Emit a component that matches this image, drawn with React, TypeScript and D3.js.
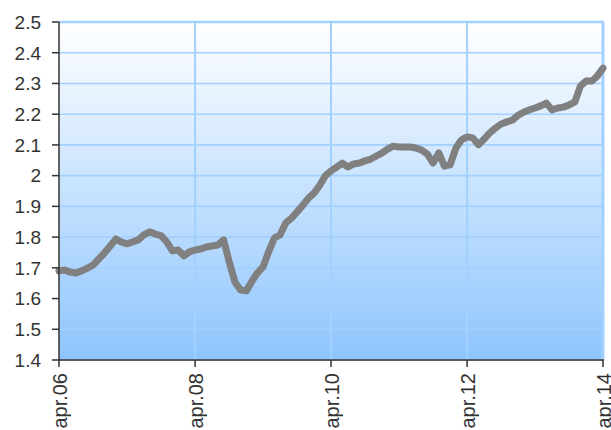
import React, { useEffect } from 'react';
import * as d3 from 'd3';

// monthly series, starting april 2006
const startMonth = '2006-04';
const values = [
  1.690, 1.693, 1.686, 1.683, 1.690, 1.699, 1.709, 1.729, 1.748, 1.771, 1.794, 1.784,
  1.778, 1.784, 1.791, 1.807, 1.817, 1.810, 1.805, 1.784, 1.755, 1.758, 1.739, 1.752,
  1.758, 1.761, 1.768, 1.771, 1.774, 1.791, 1.720, 1.654, 1.628, 1.625, 1.657, 1.683,
  1.703, 1.752, 1.797, 1.807, 1.846, 1.862, 1.882, 1.904, 1.927, 1.944, 1.970, 1.999,
  2.015, 2.028, 2.041, 2.028, 2.038, 2.041, 2.048, 2.054, 2.064, 2.074, 2.087, 2.096,
  2.093, 2.093, 2.093, 2.090, 2.083, 2.070, 2.041, 2.074, 2.031, 2.035, 2.090, 2.116,
  2.126, 2.123, 2.100, 2.119, 2.139, 2.155, 2.168, 2.175, 2.181, 2.197, 2.207, 2.214,
  2.220, 2.227, 2.236, 2.214, 2.220, 2.223, 2.230, 2.240, 2.292, 2.308, 2.308, 2.324,
  2.350,
];

const yTicks = [1.4, 1.5, 1.6, 1.7, 1.8, 1.9, 2.0, 2.1, 2.2, 2.3, 2.4, 2.5];
const xTickMonths = ['2006-04', '2008-04', '2010-04', '2012-04', '2014-04'];
const xTickLabels = ['apr.06', 'apr.08', 'apr.10', 'apr.12', 'apr.14'];

const W = 611;
const H = 430;
const margin = { top: 22, right: 8, bottom: 70, left: 59 };

const parseMonth = d3.timeParse('%Y-%m');

export default function App() {
  useEffect(() => {
    document.body.style.margin = '0';
  }, []);

  const start = parseMonth(startMonth) as Date;
  const data = values.map((v, i) => ({ date: d3.timeMonth.offset(start, i), value: v }));

  const x = d3.scaleTime()
    .domain([start, d3.timeMonth.offset(start, values.length - 1)])
    .range([margin.left, W - margin.right]);

  const y = d3.scaleLinear()
    .domain([1.4, 2.5])
    .range([H - margin.bottom, margin.top]);

  const line = d3.line<{ date: Date; value: number }>()
    .x(d => x(d.date))
    .y(d => y(d.value));

  const x0 = margin.left;
  const x1 = W - margin.right;
  const yTop = margin.top;
  const yBot = H - margin.bottom;
  const gridColor = '#a3d1ff';
  const axisColor = '#333333';
  const font = 'Liberation Sans, Arial, sans-serif';

  return (
    <svg width={W} height={H} style={{ display: 'block', fontFamily: font }}>
      <defs>
        <linearGradient id="bg" x1="0" y1="0" x2="0" y2="1">
          <stop offset="0%" stopColor="#ffffff" />
          <stop offset="100%" stopColor="#8ec5fe" />
        </linearGradient>
      </defs>
      <rect x={x0} y={yTop} width={x1 - x0} height={yBot - yTop} fill="url(#bg)" />

      {yTicks.map(t => (
        <line key={'hg' + t} x1={x0} x2={x1} y1={y(t)} y2={y(t)} stroke={gridColor} strokeWidth={1.6} />
      ))}
      {xTickMonths.slice(1, -1).map(m => {
        const px = x(parseMonth(m) as Date);
        return <line key={'vg' + m} x1={px} x2={px} y1={yTop} y2={yBot} stroke={gridColor} strokeWidth={2} />;
      })}
      <line x1={x0} x2={x1 + 1} y1={yTop} y2={yTop} stroke={gridColor} strokeWidth={2.5} />
      <line x1={x1} x2={x1} y1={yTop} y2={yBot} stroke={gridColor} strokeWidth={3} />

      <path d={line(data) || ''} fill="none" stroke="#808080" strokeWidth={7}
        strokeLinejoin="round" strokeLinecap="round" />

      <line x1={x0} x2={x0} y1={yTop} y2={yBot} stroke={axisColor} strokeWidth={1.5} />
      <line x1={x0} x2={x1 + 1} y1={yBot} y2={yBot} stroke={axisColor} strokeWidth={1.5} />

      {yTicks.map(t => (
        <g key={'yt' + t}>
          <line x1={x0 - 7} x2={x0} y1={y(t)} y2={y(t)} stroke={axisColor} strokeWidth={1.5} />
          <text x={41} y={y(t)} dy="0.36em" textAnchor="end" fontSize={19} fill="#333">
            {String(+t.toFixed(1))}
          </text>
        </g>
      ))}

      {xTickMonths.map((m, i) => {
        const px = x(parseMonth(m) as Date);
        return (
          <g key={'xt' + m}>
            <line x1={px} x2={px} y1={yBot} y2={yBot + 7} stroke={axisColor} strokeWidth={1.5} />
            <text transform={`translate(${px + 8},${yBot + 13}) rotate(-90)`} textAnchor="end"
              fontSize={20} fill="#333">
              {xTickLabels[i]}
            </text>
          </g>
        );
      })}
    </svg>
  );
}
